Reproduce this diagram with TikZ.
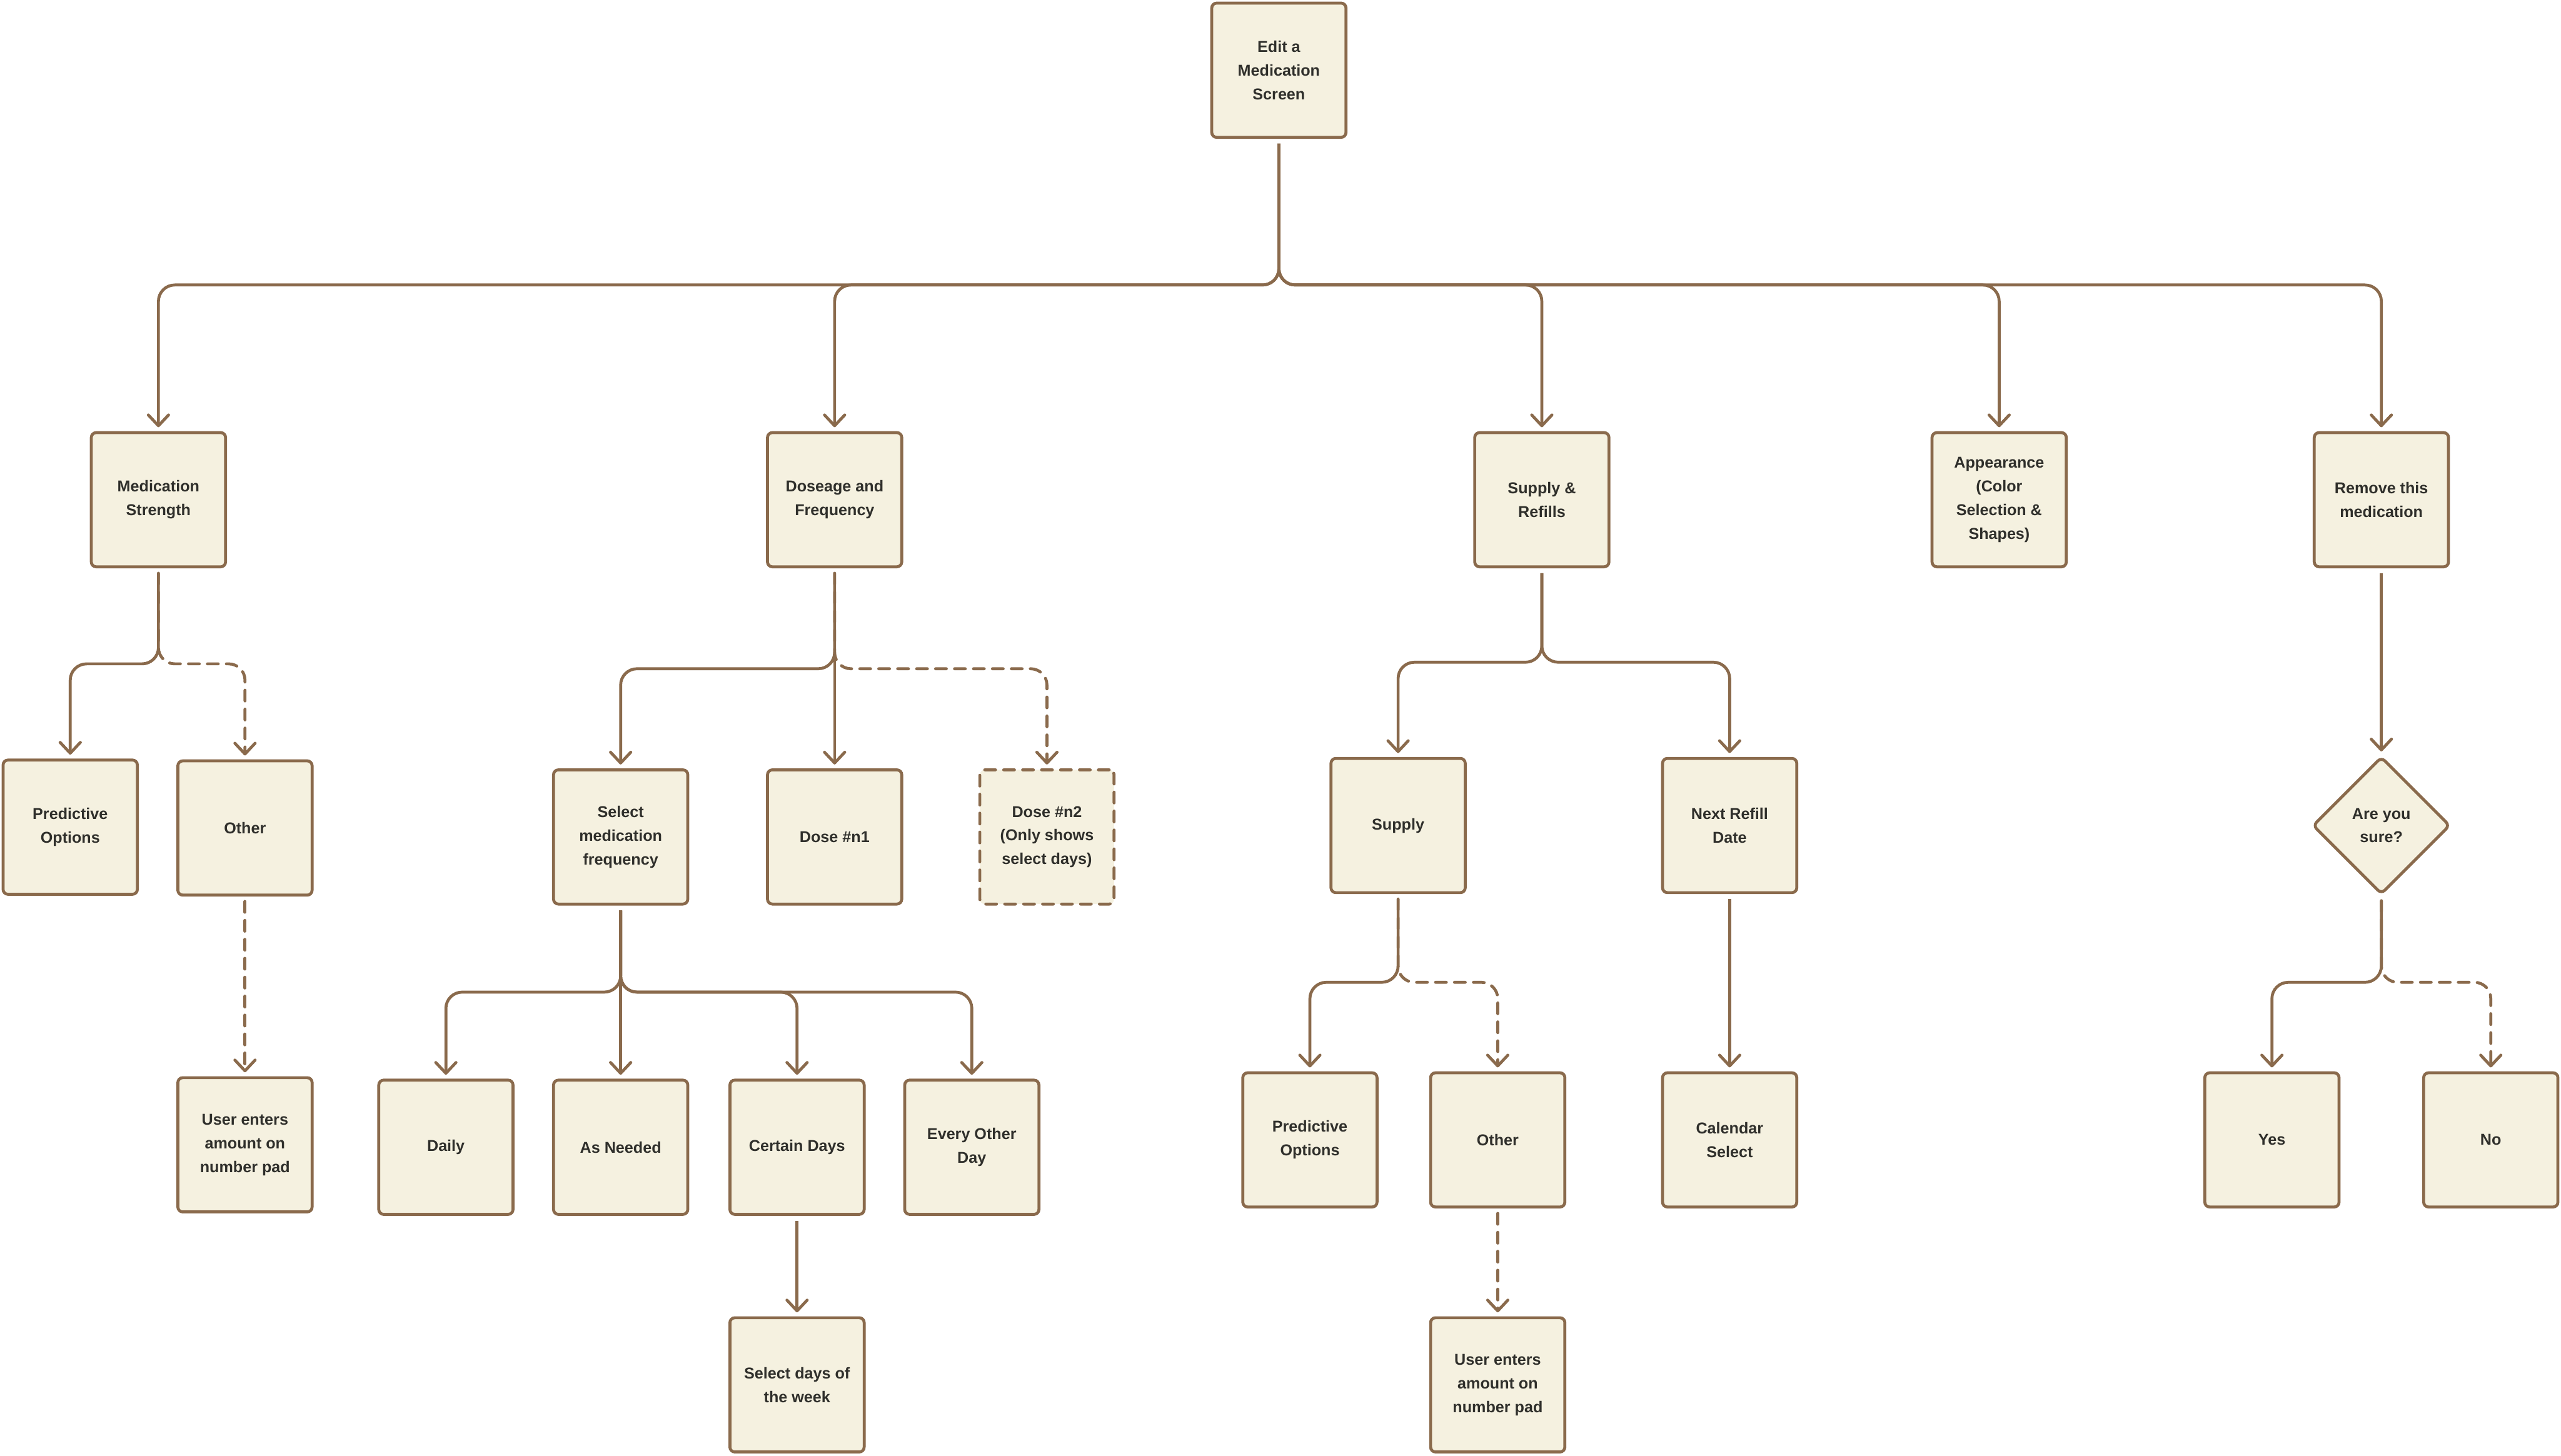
\documentclass[tikz,border=0pt]{standalone}
\usepackage{fontspec}
\setmainfont{Liberation Sans}
\usetikzlibrary{arrows.meta,shapes.geometric}
\definecolor{brn}{RGB}{138,106,76}
\definecolor{cream}{RGB}{245,241,224}
\definecolor{ink}{RGB}{47,47,43}
\tikzset{
  box/.style={draw=brn, fill=cream, line width=0.09cm, rounded corners=0.15cm,
    minimum width=4.11cm, minimum height=4.11cm, inner sep=0pt, align=center,
    text=ink, font=\fontsize{13.7pt}{20.6pt}\selectfont\bfseries},
  dbox/.style={box, dash pattern=on 0.33cm off 0.25cm, line cap=round},
  dia/.style={box, shape=diamond, minimum width=4.21cm, minimum height=4.21cm},
  conn/.style={draw=brn, line width=0.09cm, rounded corners=0.5cm,
    shorten <=0.15cm, shorten >=0.12cm,
    -{Straight Barb[length=0.33cm,width=0.62cm,round]}},
  dconn/.style={conn, dash pattern=on 0.33cm off 0.25cm, line cap=round}
}
\begin{document}
\begin{tikzpicture}[x=0.05cm,y=-0.05cm]
\useasboundingbox (0,0) rectangle (1568,891.35);
% nodes
\node[box] (top) at (783,43) {Edit a\\Medication\\Screen};
\node[box] (ms)  at (97,306)  {Medication\\Strength};
\node[box] (dose) at (511,306) {Doseage and\\Frequency};
\node[box] (sup) at (944,306) {Supply \&\\Refills};
\node[box] (app) at (1224,306) {Appearance\\(Color\\Selection \&\\Shapes)};
\node[box] (rem) at (1458,306) {Remove this\\medication};

\node[box] (pred1) at (43,506.5) {Predictive\\Options};
\node[box] (oth1) at (150,507) {Other};
\node[box] (usr1) at (150,701) {User enters\\amount on\\number pad};

\node[box] (freq) at (380,512.5) {Select\\medication\\frequency};
\node[box] (n1) at (511,512.5) {Dose \#n1};
\node[dbox] (n2) at (641,512.5) {Dose \#n2\\(Only shows\\select days)};

\node[box] (daily) at (273,702.5) {Daily};
\node[box] (asn) at (380,702.5) {As Needed};
\node[box] (cert) at (488,702.5) {Certain Days};
\node[box] (eod) at (595,702.5) {Every Other\\Day};
\node[box] (seld) at (488,848) {Select days of\\the week};

\node[box] (supply) at (856,505.5) {Supply};
\node[box] (refill) at (1059,505.5) {Next Refill\\Date};
\node[box] (pred2) at (802,698) {Predictive\\Options};
\node[box] (oth2) at (917,698) {Other};
\node[box] (cal) at (1059,698) {Calendar\\Select};
\node[box] (usr2) at (917,848) {User enters\\amount on\\number pad};

\node[dia] (sure) at (1458,505.5) {Are you\\sure?};
\node[box] (yes) at (1391,698) {Yes};
\node[box] (no) at (1525,698) {No};

% bus levels
\coordinate (bTop) at (0,174.5);
\coordinate (bMs) at (0,406.5);
\coordinate (bDose) at (0,409.5);
\coordinate (bFreq) at (0,607.5);
\coordinate (bSup) at (0,405.5);
\coordinate (bSupply) at (0,601.5);
\coordinate (bSure) at (0,601.5);

% connectors
\draw[conn] (top.south) -- (top.south |- bTop) -- (ms.north |- bTop) -- (ms.north);
\draw[conn] (top.south) -- (top.south |- bTop) -- (dose.north |- bTop) -- (dose.north);
\draw[conn] (top.south) -- (top.south |- bTop) -- (sup.north |- bTop) -- (sup.north);
\draw[conn] (top.south) -- (top.south |- bTop) -- (app.north |- bTop) -- (app.north);
\draw[conn] (top.south) -- (top.south |- bTop) -- (rem.north |- bTop) -- (rem.north);

\draw[conn] (ms.south) -- (ms.south |- bMs) -- (pred1.north |- bMs) -- (pred1.north);
\draw[dconn] (ms.south) -- (ms.south |- bMs) -- (oth1.north |- bMs) -- (oth1.north);
\draw[dconn] (oth1.south) -- (usr1.north);

\draw[conn] (dose.south) -- (dose.south |- bDose) -- (freq.north |- bDose) -- (freq.north);
\draw[conn] (dose.south) -- (n1.north);
\draw[dconn] (dose.south) -- (dose.south |- bDose) -- (n2.north |- bDose) -- (n2.north);

\draw[conn] (freq.south) -- (freq.south |- bFreq) -- (daily.north |- bFreq) -- (daily.north);
\draw[conn] (freq.south) -- (asn.north);
\draw[conn] (freq.south) -- (freq.south |- bFreq) -- (cert.north |- bFreq) -- (cert.north);
\draw[conn] (freq.south) -- (freq.south |- bFreq) -- (eod.north |- bFreq) -- (eod.north);
\draw[conn] (cert.south) -- (seld.north);

\draw[conn] (sup.south) -- (sup.south |- bSup) -- (supply.north |- bSup) -- (supply.north);
\draw[conn] (sup.south) -- (sup.south |- bSup) -- (refill.north |- bSup) -- (refill.north);
\draw[conn] (supply.south) -- (supply.south |- bSupply) -- (pred2.north |- bSupply) -- (pred2.north);
\draw[dconn] (supply.south) -- (supply.south |- bSupply) -- (oth2.north |- bSupply) -- (oth2.north);
\draw[dconn] (oth2.south) -- (usr2.north);
\draw[conn] (refill.south) -- (cal.north);

\draw[conn] (rem.south) -- (sure.north);
\draw[conn] (sure.south) -- (sure.south |- bSure) -- (yes.north |- bSure) -- (yes.north);
\draw[dconn] (sure.south) -- (sure.south |- bSure) -- (no.north |- bSure) -- (no.north);
\end{tikzpicture}
\end{document}
